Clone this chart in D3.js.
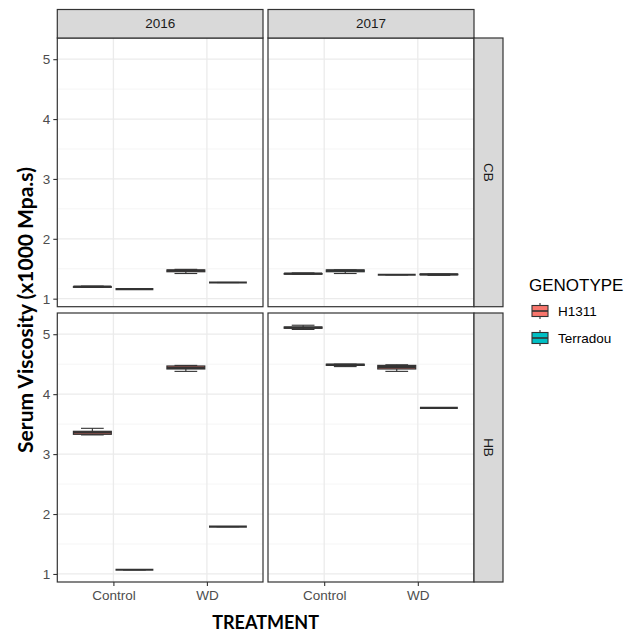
<!DOCTYPE html>
<html><head><meta charset="utf-8">
<script src="https://cdn.jsdelivr.net/npm/d3@7"></script>
<style>body{margin:0;background:#fff}svg{display:block}</style>
</head><body>
<script>
// ---- data ----
const years = ["2016", "2017"];
const tissues = ["CB", "HB"];
const treatments = ["Control", "WD"];
const genotypes = ["H1311", "Terradou"];
const genotypeColors = ["#F8766D", "#00BFC4"];
const yTicks = [1, 2, 3, 4, 5];
const yMinorTicks = [1.5, 2.5, 3.5, 4.5];

const boxTissue    = ["CB","CB","CB","CB","CB","CB","CB","CB","HB","HB","HB","HB","HB","HB","HB","HB"];
const boxYear      = ["2016","2016","2016","2016","2017","2017","2017","2017","2016","2016","2016","2016","2017","2017","2017","2017"];
const boxTreatment = ["Control","Control","WD","WD","Control","Control","WD","WD","Control","Control","WD","WD","Control","Control","WD","WD"];
const boxGenotype  = ["H1311","Terradou","H1311","Terradou","H1311","Terradou","H1311","Terradou","H1311","Terradou","H1311","Terradou","H1311","Terradou","H1311","Terradou"];
const boxLow  = [1.19,1.16,1.42,1.27, 1.41,1.42,1.40,1.39, 3.32,1.07,4.38,1.79, 5.08,4.46,4.38,3.77];
const boxQ1   = [1.19,1.16,1.45,1.27, 1.41,1.45,1.40,1.40, 3.33,1.07,4.42,1.79, 5.10,4.48,4.42,3.77];
const boxMed  = [1.20,1.16,1.47,1.27, 1.42,1.47,1.40,1.405,3.36,1.07,4.44,1.79, 5.11,4.49,4.45,3.77];
const boxQ3   = [1.20,1.16,1.48,1.27, 1.42,1.48,1.40,1.41, 3.38,1.07,4.47,1.79, 5.12,4.50,4.48,3.77];
const boxHigh = [1.21,1.16,1.49,1.27, 1.43,1.48,1.40,1.41, 3.43,1.07,4.48,1.79, 5.15,4.50,4.49,3.77];

// ---- layout ----
const W = 630, H = 633;
const colX = [[57.3, 263], [268, 474]];
const rowY = [[38, 306.7], [313, 582]];
const stripTop = 9.5, stripRightW = 29;
const dark = "#333333";

const svg = d3.select("body").append("svg").attr("width", W).attr("height", H)
  .style("font-family", "Arial, 'Liberation Sans', sans-serif");

const lo = d3.min(boxLow), hi = d3.max(boxHigh), pad = (hi - lo) * 0.05;

const records = boxLow.map((d, i) => ({
  tissue: boxTissue[i], year: boxYear[i], treatment: boxTreatment[i], genotype: boxGenotype[i],
  low: boxLow[i], q1: boxQ1[i], med: boxMed[i], q3: boxQ3[i], high: boxHigh[i]
}));

tissues.forEach((tissue, r) => {
  const y = d3.scaleLinear().domain([lo - pad, hi + pad]).range([rowY[r][1], rowY[r][0]]);
  years.forEach((year, c) => {
    const x = d3.scalePoint().domain(treatments).range(colX[c]).padding(0.6);
    const step = x.step();
    const dodge = d3.scaleBand().domain(genotypes).range([-0.45 * step, 0.45 * step])
      .paddingInner(0.1).paddingOuter(0.05);
    const bw = dodge.bandwidth();
    const color = d3.scaleOrdinal().domain(genotypes).range(genotypeColors);
    const g = svg.append("g");
    const [x0, x1] = colX[c], [y0, y1] = rowY[r];

    g.append("rect").attr("x", x0).attr("y", y0).attr("width", x1 - x0).attr("height", y1 - y0).attr("fill", "#fff");
    // grid
    g.selectAll(".ymin").data(yMinorTicks).join("line")
      .attr("x1", x0).attr("x2", x1).attr("y1", d => y(d)).attr("y2", d => y(d))
      .attr("stroke", "#f2f2f2").attr("stroke-width", 0.8);
    g.selectAll(".ymaj").data(yTicks).join("line")
      .attr("x1", x0).attr("x2", x1).attr("y1", d => y(d)).attr("y2", d => y(d))
      .attr("stroke", "#ebebeb").attr("stroke-width", 1.3);
    g.selectAll(".xmaj").data(treatments).join("line")
      .attr("x1", d => x(d)).attr("x2", d => x(d)).attr("y1", y0).attr("y2", y1)
      .attr("stroke", "#ebebeb").attr("stroke-width", 1.3);

    const recs = records.filter(d => d.tissue === tissue && d.year === year);
    const cx = d => x(d.treatment) + dodge(d.genotype) + bw / 2;
    const capHalf = bw * 0.3;
    // error bars (whiskers)
    recs.forEach(d => {
      const X = cx(d);
      g.append("line").attr("x1", X).attr("x2", X).attr("y1", y(d.high)).attr("y2", y(d.low))
        .attr("stroke", dark).attr("stroke-width", 1.1);
      [d.low, d.high].forEach(v => g.append("line")
        .attr("x1", X - capHalf).attr("x2", X + capHalf).attr("y1", y(v)).attr("y2", y(v))
        .attr("stroke", dark).attr("stroke-width", 1.1));
    });
    // boxes
    recs.forEach(d => {
      const X = cx(d);
      g.append("rect").attr("x", X - bw / 2).attr("y", y(d.q3)).attr("width", bw)
        .attr("height", Math.max(0, y(d.q1) - y(d.q3)))
        .attr("fill", color(d.genotype)).attr("stroke", dark).attr("stroke-width", 1.2);
      g.append("line").attr("x1", X - bw / 2).attr("x2", X + bw / 2).attr("y1", y(d.med)).attr("y2", y(d.med))
        .attr("stroke", dark).attr("stroke-width", 2.2);
    });

    g.append("rect").attr("x", x0).attr("y", y0).attr("width", x1 - x0).attr("height", y1 - y0)
      .attr("fill", "none").attr("stroke", dark).attr("stroke-width", 1.2);

    // y axis on left column
    if (c === 0) {
      const ax = svg.append("g").attr("transform", `translate(${x0},0)`)
        .call(d3.axisLeft(y).tickValues(yTicks).tickSize(4).tickPadding(3).tickFormat(d3.format("d")));
      ax.select(".domain").remove();
      ax.selectAll("line").attr("stroke", dark).attr("stroke-width", 1.1);
      ax.selectAll("text").attr("fill", "#4d4d4d").style("font-size", "13.5px").style("font-family", "Arial, 'Liberation Sans', sans-serif");
    }
    // x axis on bottom row
    if (r === tissues.length - 1) {
      const ax = svg.append("g").attr("transform", `translate(0,${y1})`)
        .call(d3.axisBottom(x).tickSize(4).tickPadding(4));
      ax.select(".domain").remove();
      ax.selectAll("line").attr("stroke", dark).attr("stroke-width", 1.1);
      ax.selectAll("text").attr("fill", "#4d4d4d").style("font-size", "13.5px").style("font-family", "Arial, 'Liberation Sans', sans-serif");
    }
    // top strip
    if (r === 0) {
      svg.append("rect").attr("x", x0).attr("y", stripTop).attr("width", x1 - x0).attr("height", y0 - stripTop)
        .attr("fill", "#d9d9d9").attr("stroke", dark).attr("stroke-width", 1.2);
      svg.append("text").attr("x", (x0 + x1) / 2).attr("y", (stripTop + y0) / 2).attr("dy", "0.35em")
        .attr("text-anchor", "middle").attr("fill", "#1a1a1a").style("font-size", "13.5px").text(year);
    }
    // right strip
    if (c === years.length - 1) {
      svg.append("rect").attr("x", x1).attr("y", y0).attr("width", stripRightW).attr("height", y1 - y0)
        .attr("fill", "#d9d9d9").attr("stroke", dark).attr("stroke-width", 1.2);
      svg.append("text").attr("transform", `translate(${x1 + stripRightW / 2},${(y0 + y1) / 2}) rotate(90)`)
        .attr("dy", "0.35em").attr("text-anchor", "middle").attr("fill", "#1a1a1a").style("font-size", "13.5px").text(tissue);
    }
  });
});

// axis titles
svg.append("text").attr("x", (colX[0][0] + colX[1][1]) / 2).attr("y", 629)
  .attr("text-anchor", "middle").style("font-family", "Lato, 'Open Sans', sans-serif")
  .style("font-weight", "bold").style("font-size", "18px").attr("fill", "#000").text("TREATMENT");
svg.append("text").attr("transform", `translate(33,${(rowY[0][0] + rowY[1][1]) / 2}) rotate(-90)`)
  .attr("text-anchor", "middle").style("font-family", "Lato, 'Open Sans', sans-serif")
  .style("font-weight", "bold").style("font-size", "21px").attr("fill", "#000").text("Serum Viscosity (x1000 Mpa.s)");

// legend
const leg = svg.append("g").attr("transform", "translate(529,0)");
leg.append("text").attr("x", 0).attr("y", 291).style("font-size", "17px").attr("fill", "#000").text("GENOTYPE");
genotypes.forEach((gname, i) => {
  const cy = 311 + i * 27;
  const k = leg.append("g");
  k.append("line").attr("x1", 11).attr("x2", 11).attr("y1", cy - 8).attr("y2", cy + 8).attr("stroke", dark).attr("stroke-width", 1.1);
  k.append("rect").attr("x", 3).attr("y", cy - 5.5).attr("width", 16).attr("height", 11)
    .attr("fill", genotypeColors[i]).attr("stroke", dark).attr("stroke-width", 1.1);
  k.append("line").attr("x1", 3).attr("x2", 19).attr("y1", cy).attr("y2", cy).attr("stroke", dark).attr("stroke-width", 1.6);
  leg.append("text").attr("x", 29).attr("y", cy).attr("dy", "0.35em").style("font-size", "13.5px").attr("fill", "#000").text(gname);
});
</script>
</body></html>
